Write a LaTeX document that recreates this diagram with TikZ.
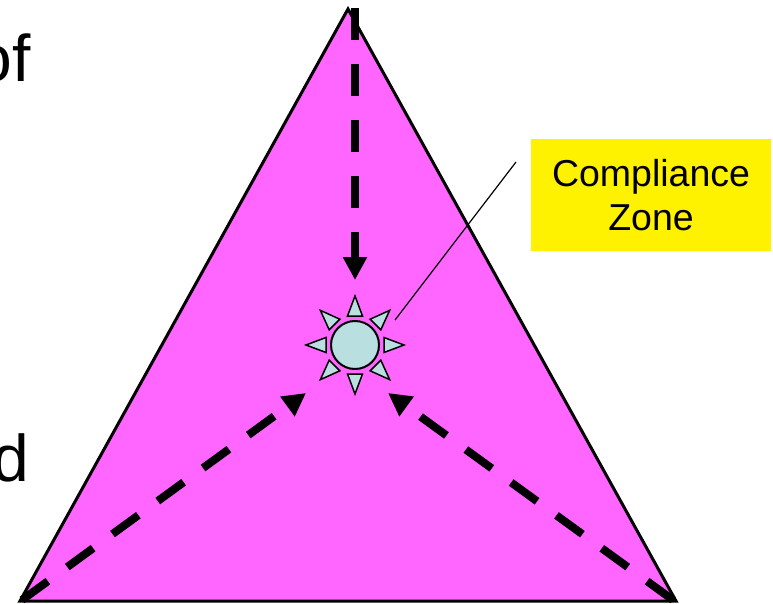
\documentclass[tikz,border=0pt]{standalone}
\usepackage{fontspec}
\setmainfont{Liberation Sans}
\usetikzlibrary{arrows.meta}
\definecolor{tri}{HTML}{FF66FF}
\definecolor{sunc}{HTML}{B9DFE0}
\begin{document}
\begin{tikzpicture}[x=1pt,y=-1pt,
  dashline/.style={line width=8pt, dash pattern=on 32pt off 24pt,
    -{Triangle[length=23pt,width=23pt]}},
  sunray/.style={draw, fill=sunc, line width=1.5pt, line join=miter},
  bigtext/.style={anchor=base east, inner sep=0pt, font=\fontsize{66}{79}\selectfont}]
\useasboundingbox (0,0) rectangle (773,604);
\clip (0,0) rectangle (773,604);
% left clipped texts
\node[bigtext] (of) at (31,82) {of};
\node[bigtext] (d) at (29,481) {d};
% triangle
\coordinate (apex) at (348,9);
\coordinate (bl) at (20,601);
\coordinate (br) at (676,601);
\fill[tri] (apex) -- (bl) -- (br) -- cycle;
\draw[line width=3pt, line join=miter] (apex) -- (bl) -- (br) -- cycle;
% sun
\node[circle, draw, fill=sunc, line width=2pt, minimum size=48pt, inner sep=0pt] (sun) at (355,345) {};
\foreach \a in {0,45,...,315}{
  \begin{scope}[shift={(sun.center)}, rotate=\a]
    \draw[sunray] (29,-7.5) -- (49,0) -- (29,7.5) -- cycle;
  \end{scope}
}
% dashed arrows
\coordinate (topstart) at (355,8);
\coordinate (toptip) at (355,280);
\coordinate (lstart) at (22,600);
\coordinate (ltip) at (306,393);
\coordinate (rstart) at (673,600);
\coordinate (rtip) at (388,393);
\draw[dashline] (topstart) -- (toptip);
\draw[dashline] (lstart) -- (ltip);
\draw[dashline] (rstart) -- (rtip);
% callout
\node[fill=yellow, minimum width=240pt, minimum height=112pt, inner sep=0pt, align=center,
  font=\fontsize{37.5}{44}\selectfont] (box) at (651,195) {Compliance\\Zone};
\coordinate (cfrom) at (395,320);
\coordinate (cto) at (516,162);
\draw[line width=1.2pt] (cfrom) -- (cto);
\end{tikzpicture}
\end{document}
